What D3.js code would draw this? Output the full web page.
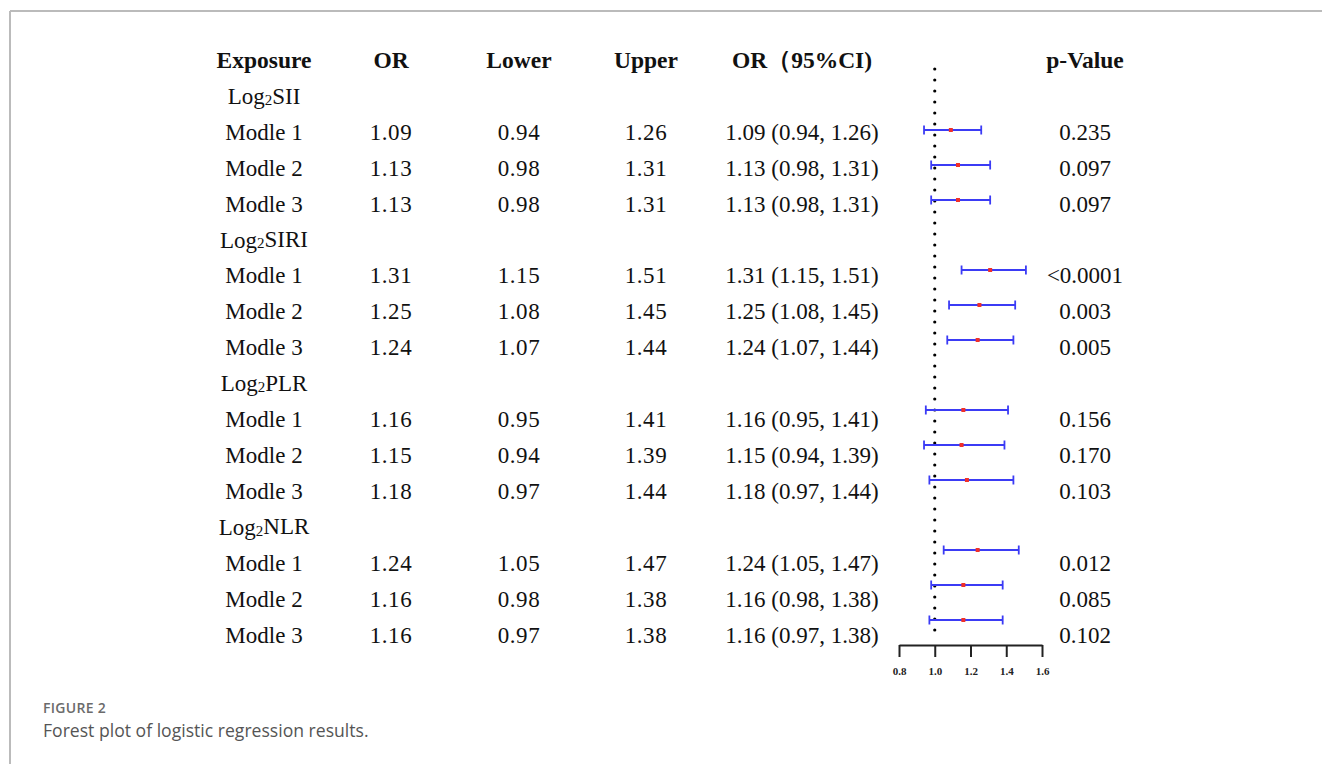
<!DOCTYPE html>
<html>
<head>
<meta charset="utf-8">
<script src="https://cdn.jsdelivr.net/npm/d3@7"></script>
<style>
body{margin:0;background:#fff;}
svg{display:block;}
.cell{font-family:"Liberation Serif","Times New Roman",serif;font-size:23px;fill:#111;}
.head{font-weight:bold;font-size:23.5px;}
.cap1{font-family:"Open Sans","Noto Sans",sans-serif;font-size:14px;font-weight:600;fill:#6b6b6b;letter-spacing:0.3px;}
.cap2{font-family:"Open Sans","Noto Sans",sans-serif;font-size:17.6px;fill:#555;}
</style>
</head>
<body>
<svg width="1322" height="764"></svg>
<script>
var headers=["Exposure","OR","Lower","Upper","OR（95%CI)","p-Value"];
var exposures=["SII","SIRI","PLR","NLR"];
var models=["Modle 1","Modle 2","Modle 3"];
var orValues=[1.09,1.13,1.13, 1.31,1.25,1.24, 1.16,1.15,1.18, 1.24,1.16,1.16];
var lowerValues=[0.94,0.98,0.98, 1.15,1.08,1.07, 0.95,0.94,0.97, 1.05,0.98,0.97];
var upperValues=[1.26,1.31,1.31, 1.51,1.45,1.44, 1.41,1.39,1.44, 1.47,1.38,1.38];
var pValues=["0.235","0.097","0.097","<0.0001","0.003","0.005","0.156","0.170","0.103","0.012","0.085","0.102"];
var axisTicks=[0.8,1.0,1.2,1.4,1.6];

var svg=d3.select("svg");
var width=1322, height=764;

// frame
svg.append("line").attr("x1",10).attr("x2",width).attr("y1",11).attr("y2",11)
  .attr("stroke","#bbb").attr("stroke-width",2);
svg.append("line").attr("x1",10).attr("x2",10).attr("y1",11).attr("y2",height)
  .attr("stroke","#bbb").attr("stroke-width",2);

var colX=[264,391,519,646,802,1085];

// build rows
var rows=[];
var k=0;
exposures.forEach(function(e){
  rows.push({type:"group",name:e});
  models.forEach(function(m){
    rows.push({type:"model",name:m,i:k});
    k++;
  });
});
rows.forEach(function(r,j){r.row=j+1;});

var yText=d3.scaleLinear().domain([0,16]).range([60,634.5]);
var yPlot=d3.scaleLinear().domain([2,16]).range([130,620]);
var x=d3.scaleLinear().domain([0.8,1.6]).range([899,1042]);

// headers
svg.selectAll(".headtxt").data(headers).enter().append("text")
  .attr("class","cell head")
  .attr("x",(d,i)=>colX[i]).attr("y",yText(0)).attr("dy","0.35em")
  .attr("text-anchor","middle")
  .text(d=>d);

// group labels
var groups=svg.selectAll(".grp").data(rows.filter(r=>r.type=="group")).enter().append("text")
  .attr("class","cell")
  .attr("x",colX[0]).attr("y",r=>yText(r.row)).attr("dy","0.35em")
  .attr("text-anchor","middle");
groups.append("tspan").text("Log");
groups.append("tspan").attr("font-size","15px").attr("dy","0.05em").text("2");
groups.append("tspan").attr("dy","-0.05em").text(r=>r.name);

var f2=d3.format(".2f");
var modelRows=rows.filter(r=>r.type=="model");
var cols=[
  r=>r.name,
  r=>f2(orValues[r.i]),
  r=>f2(lowerValues[r.i]),
  r=>f2(upperValues[r.i]),
  r=>f2(orValues[r.i])+" ("+f2(lowerValues[r.i])+", "+f2(upperValues[r.i])+")",
  r=>pValues[r.i]
];
cols.forEach(function(fn,c){
  svg.selectAll(".c"+c).data(modelRows).enter().append("text")
    .attr("class","cell")
    .attr("x",colX[c]).attr("y",r=>yText(r.row)).attr("dy","0.35em")
    .attr("text-anchor","middle")
    .attr("letter-spacing",c>0 && c<4 ? "0.6px" : null)
    .text(fn);
});

// reference line
svg.append("line")
  .attr("x1",x(1)).attr("x2",x(1)).attr("y1",69).attr("y2",640)
  .attr("stroke","#000").attr("stroke-width",3.2)
  .attr("stroke-linecap","round").attr("stroke-dasharray","0,11");

// CIs
var ci=svg.append("g");
var blue="#3b3bf5";
ci.selectAll(".ci").data(modelRows).enter().append("line")
  .attr("x1",r=>x(lowerValues[r.i])).attr("x2",r=>x(upperValues[r.i]))
  .attr("y1",r=>yPlot(r.row)).attr("y2",r=>yPlot(r.row))
  .attr("stroke",blue).attr("stroke-width",1.8);
[lowerValues,upperValues].forEach(function(arr){
  ci.selectAll(null).data(modelRows).enter().append("line")
    .attr("x1",r=>x(arr[r.i])).attr("x2",r=>x(arr[r.i]))
    .attr("y1",r=>yPlot(r.row)-4.5).attr("y2",r=>yPlot(r.row)+4.5)
    .attr("stroke",blue).attr("stroke-width",1.8);
});
ci.selectAll(".pt").data(modelRows).enter().append("rect")
  .attr("x",r=>x(orValues[r.i])-2).attr("y",r=>yPlot(r.row)-2)
  .attr("width",4).attr("height",4).attr("fill","#f0302a");

// axis
var axis=d3.axisBottom(x).tickValues(axisTicks).tickFormat(d3.format(".1f"))
  .tickSize(12).tickSizeOuter(0).tickPadding(10);
var ag=svg.append("g").attr("transform","translate(0,645)").call(axis);
ag.select(".domain").attr("stroke","#222").attr("stroke-width",2);
ag.selectAll(".tick line").attr("stroke","#222").attr("stroke-width",2);
ag.selectAll(".tick text").attr("font-family","Liberation Serif, serif")
  .attr("font-size",11).attr("font-weight","bold").attr("fill","#222");

// caption
svg.append("text").attr("class","cap1").attr("x",43).attr("y",713).text("FIGURE 2");
svg.append("text").attr("class","cap2").attr("x",43).attr("y",737)
  .text("Forest plot of logistic regression results.");
</script>
</body>
</html>
